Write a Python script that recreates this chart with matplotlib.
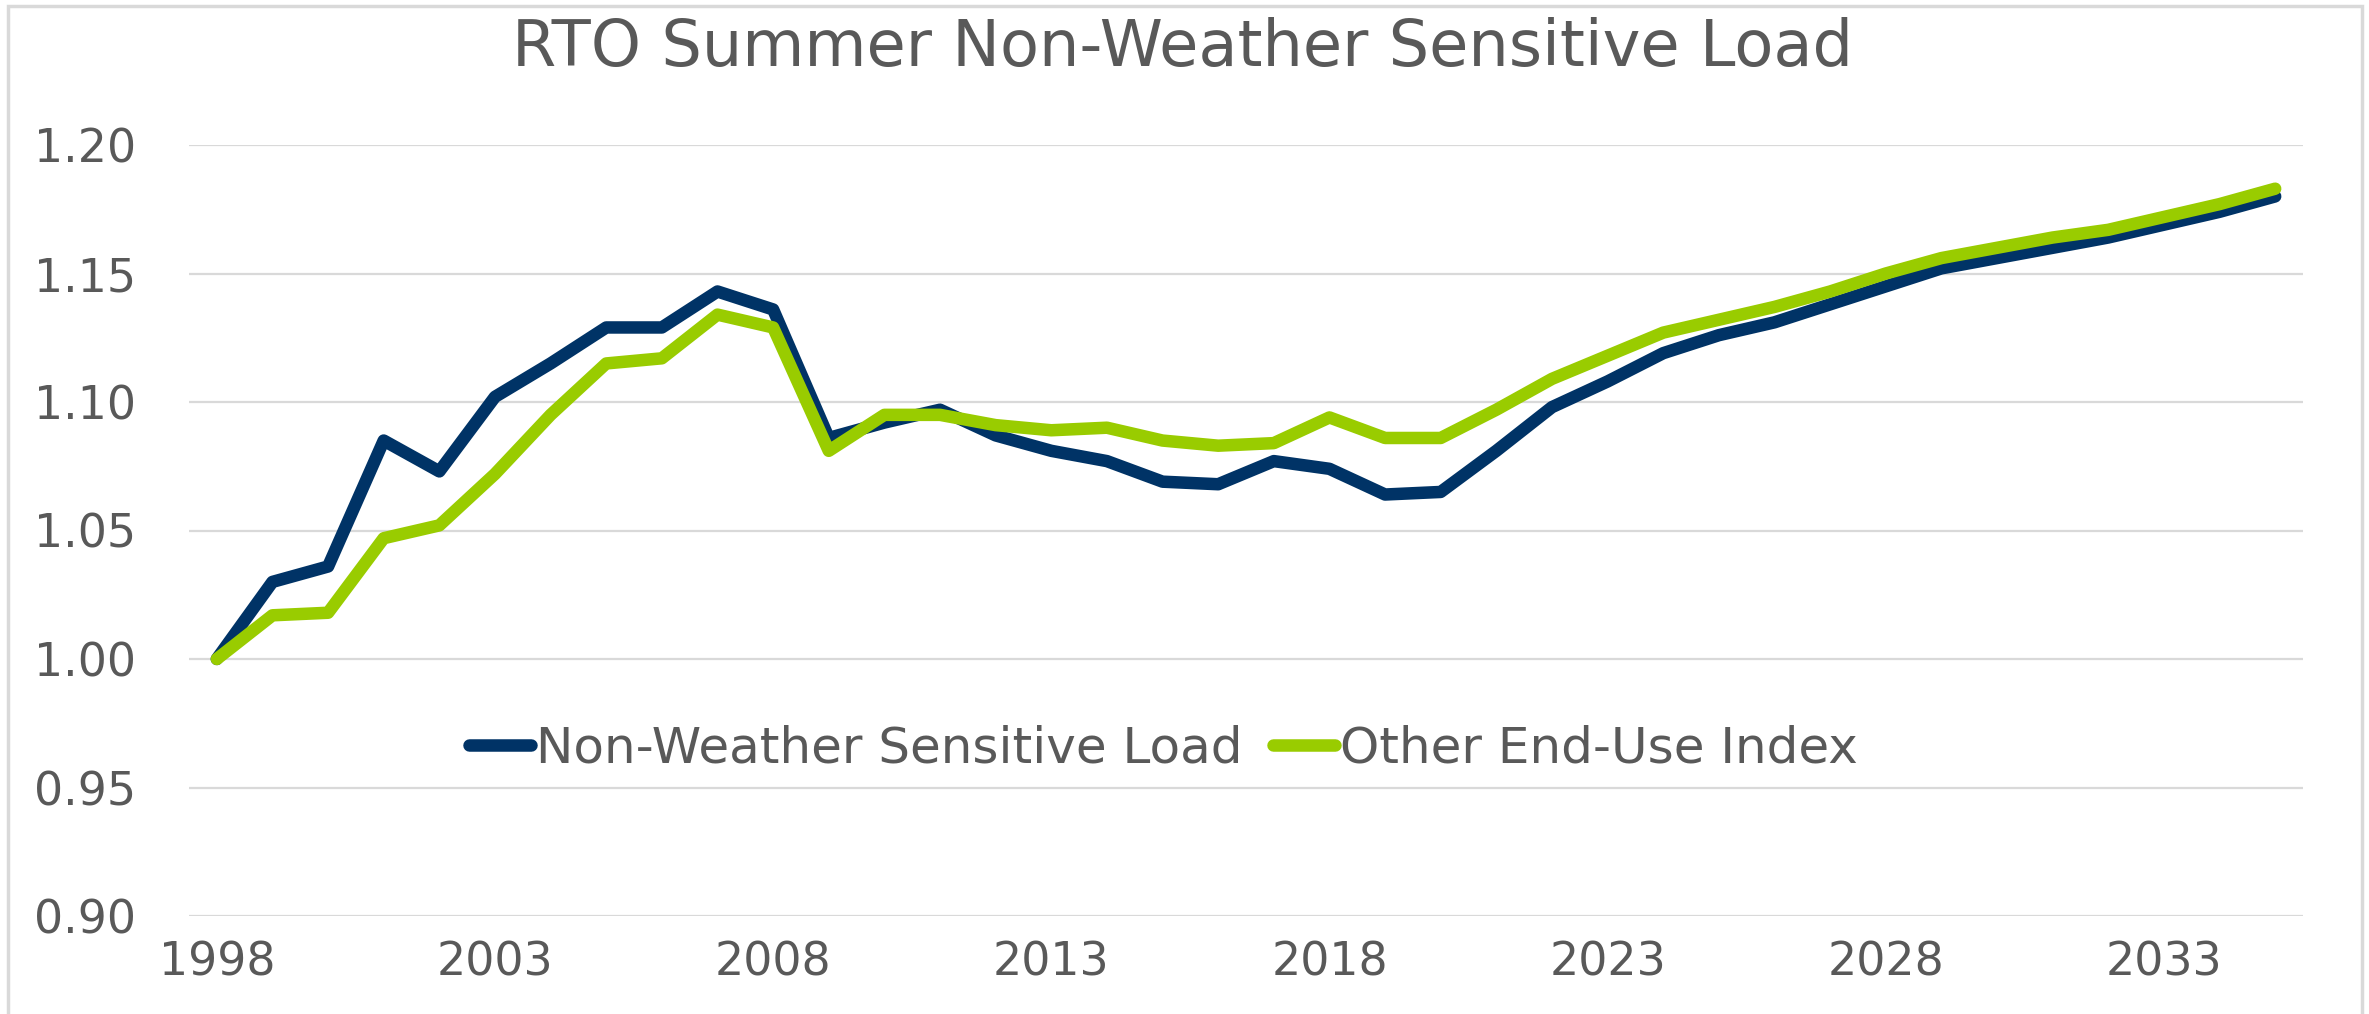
import matplotlib
matplotlib.use("Agg")
import matplotlib.pyplot as plt
from matplotlib.patches import Rectangle

years = list(range(1998, 2036))
non_weather = [1.000, 1.030, 1.036, 1.085, 1.073, 1.102, 1.115, 1.129, 1.129, 1.143,
               1.136, 1.086, 1.092, 1.097, 1.087, 1.081, 1.077, 1.069, 1.068, 1.077,
               1.074, 1.064, 1.065, 1.081, 1.098, 1.108, 1.119, 1.126, 1.131, 1.138,
               1.145, 1.152, 1.156, 1.160, 1.164, 1.169, 1.174, 1.180]
other_end_use = [1.000, 1.017, 1.018, 1.047, 1.052, 1.072, 1.095, 1.115, 1.117, 1.134,
                 1.129, 1.081, 1.095, 1.095, 1.091, 1.089, 1.090, 1.085, 1.083, 1.084,
                 1.094, 1.086, 1.086, 1.097, 1.109, 1.118, 1.127, 1.132, 1.137, 1.143,
                 1.150, 1.156, 1.160, 1.164, 1.167, 1.172, 1.177, 1.183]
x_ticks = [1998, 2003, 2008, 2013, 2018, 2023, 2028, 2033]
y_ticks = [0.90, 0.95, 1.00, 1.05, 1.10, 1.15, 1.20]

navy = "#003366"
green = "#99CC00"
text_grey = "#595959"
grid_grey = "#D9D9D9"

plt.rcParams["font.family"] = ["DejaVu Sans"]

fig = plt.figure(figsize=(23.69, 10.14), dpi=100)
ax = fig.add_axes([189 / 2369, 1 - 916 / 1014, (2303 - 189) / 2369, (916 - 145) / 1014])

ax.plot(years, non_weather, color=navy, lw=9, solid_joinstyle="round",
        solid_capstyle="round", label="Non-Weather Sensitive Load", zorder=3)
ax.plot(years, other_end_use, color=green, lw=9, solid_joinstyle="round",
        solid_capstyle="round", label="Other End-Use Index", zorder=4)

ax.set_xlim(1997.5, 2035.5)
ax.set_ylim(0.90, 1.20)
ax.set_xticks(x_ticks)
ax.set_xticklabels([str(y) for y in x_ticks])
ax.set_yticks(y_ticks)
ax.set_yticklabels([f"{v:.2f}" for v in y_ticks])
ax.tick_params(axis="both", length=0, labelsize=33, colors=text_grey)
ax.tick_params(axis="y", pad=38)
ax.tick_params(axis="x", pad=18)
ax.grid(axis="y", color=grid_grey, lw=1.6)
ax.set_axisbelow(True)
for s in ax.spines.values():
    s.set_visible(False)

fig.text(1183 / 2369, 1 - 48 / 1014, "RTO Summer Non-Weather Sensitive Load",
         ha="center", va="center", fontsize=46, color=text_grey)

leg = ax.legend(loc="center", bbox_to_anchor=(0.461, 0.217), ncol=2, frameon=False,
                fontsize=36, handlelength=1.25, handletextpad=0.1, columnspacing=0.6,
                labelcolor=text_grey)

fig.patches.append(Rectangle((8 / 2369, -0.05), (2362 - 8) / 2369, 1.05 - 6 / 1014,
                             transform=fig.transFigure, fill=False,
                             edgecolor=grid_grey, lw=2.5))

fig.savefig("out.png", dpi=100)
